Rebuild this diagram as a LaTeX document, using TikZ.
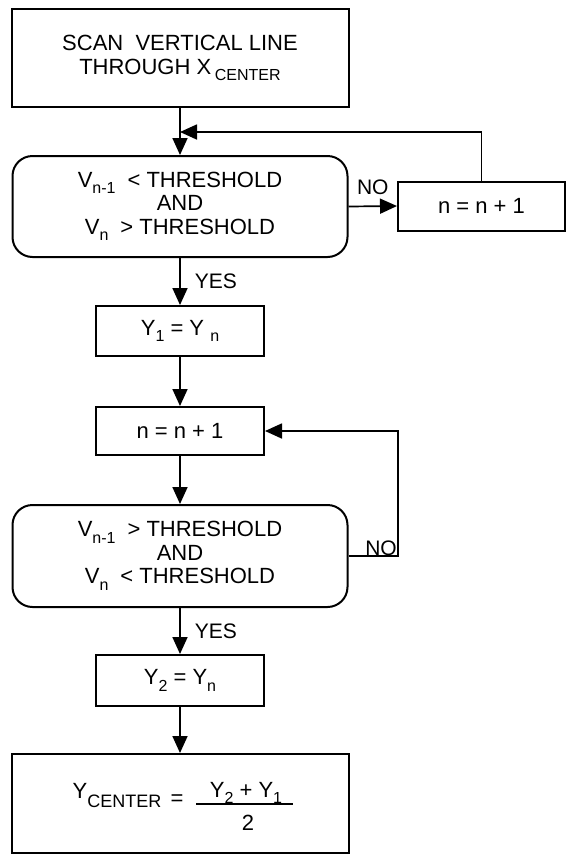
\documentclass[tikz,border=0pt]{standalone}
\usepackage{fontspec}
\setmainfont{Liberation Sans}
\usetikzlibrary{arrows.meta}
\newcommand{\sbs}[1]{\raisebox{-0.3em}{\fontsize{16}{16}\selectfont #1}}
\begin{document}
\begin{tikzpicture}[x=1pt,y=-1pt,
  font=\fontsize{22}{23.5}\selectfont,
  procbox/.style={draw, line width=2pt, inner sep=0pt, align=center},
  widebox/.style={procbox, minimum width=337pt},
  smallbox/.style={procbox, minimum width=168pt},
  decbox/.style={procbox, rounded corners=20pt, minimum width=335pt},
  arr/.style={line width=1.7pt, -{Triangle[width=15pt,length=17pt]}},
  lbl/.style={inner sep=0pt, font=\fontsize{21}{21}\selectfont}
]
\useasboundingbox (0,0) rectangle (567,855);

\node[widebox, minimum height=98pt] (box1) at (180,58)
  {SCAN\ \ VERTICAL LINE\\THROUGH X\,\sbs{CENTER}};
\node[decbox, minimum height=101pt] (dec1) at (180,206.5)
  {V\sbs{n-1}\hspace{12pt}< THRESHOLD\\AND\\V\sbs{n}\hspace{12pt}> THRESHOLD};
\node[procbox, minimum width=167pt, minimum height=49pt] (rb1) at (481.5,206) {n = n + 1};
\node[smallbox, minimum height=50pt] (y1) at (180,331) {Y\sbs{1} = Y \sbs{n}};
\node[smallbox, minimum height=48pt] (n2) at (180,431) {n = n + 1};
\node[decbox, minimum height=102pt] (dec2) at (180,556)
  {V\sbs{n-1}\hspace{12pt}> THRESHOLD\\AND\\V\sbs{n}\hspace{12pt}< THRESHOLD};
\node[smallbox, minimum height=51pt] (y2) at (180,680.5) {Y\sbs{2} = Y\sbs{n}};
\node[widebox, minimum height=99pt] (fin) at (180,803.5) {};

% formula in final box
\node[anchor=base, inner sep=0pt] (ycen) at (117,798) {Y\raisebox{-0.42em}{\fontsize{18}{18}\selectfont CENTER}};
\node[inner sep=0pt] (eqs) at (177,800) {=};
\node[anchor=base, inner sep=0pt] (num) at (246,797) {Y\sbs{2} + Y\sbs{1}};
\node[anchor=base, inner sep=0pt] (den) at (248,830) {2};
\coordinate (barl) at (196,804);
\coordinate (barr) at (293,804);
\draw[line width=2pt] (barl) -- (barr);

% connectors
\coordinate (m) at (180,132);
\draw[arr] (box1.south) -- (dec1.north);
\draw[arr] (rb1.north) |- (m);
\draw[arr] (dec1.east) -- node[lbl, above, yshift=11pt] {NO} (rb1.west);
\draw[arr] (dec1.south) -- node[lbl, right, xshift=14pt] {YES} (y1.north);
\draw[arr] (y1.south) -- (n2.north);
\draw[arr] (n2.south) -- (dec2.north);
\coordinate (lp) at (398,431);
\draw[arr] (dec2.east) -| (lp) -- (n2.east);
\node[lbl, anchor=south] (no2) at (381,556) {NO};
\draw[arr] (dec2.south) -- node[lbl, right, xshift=14pt] {YES} (y2.north);
\draw[arr] (y2.south) -- (fin.north);
\end{tikzpicture}
\end{document}
